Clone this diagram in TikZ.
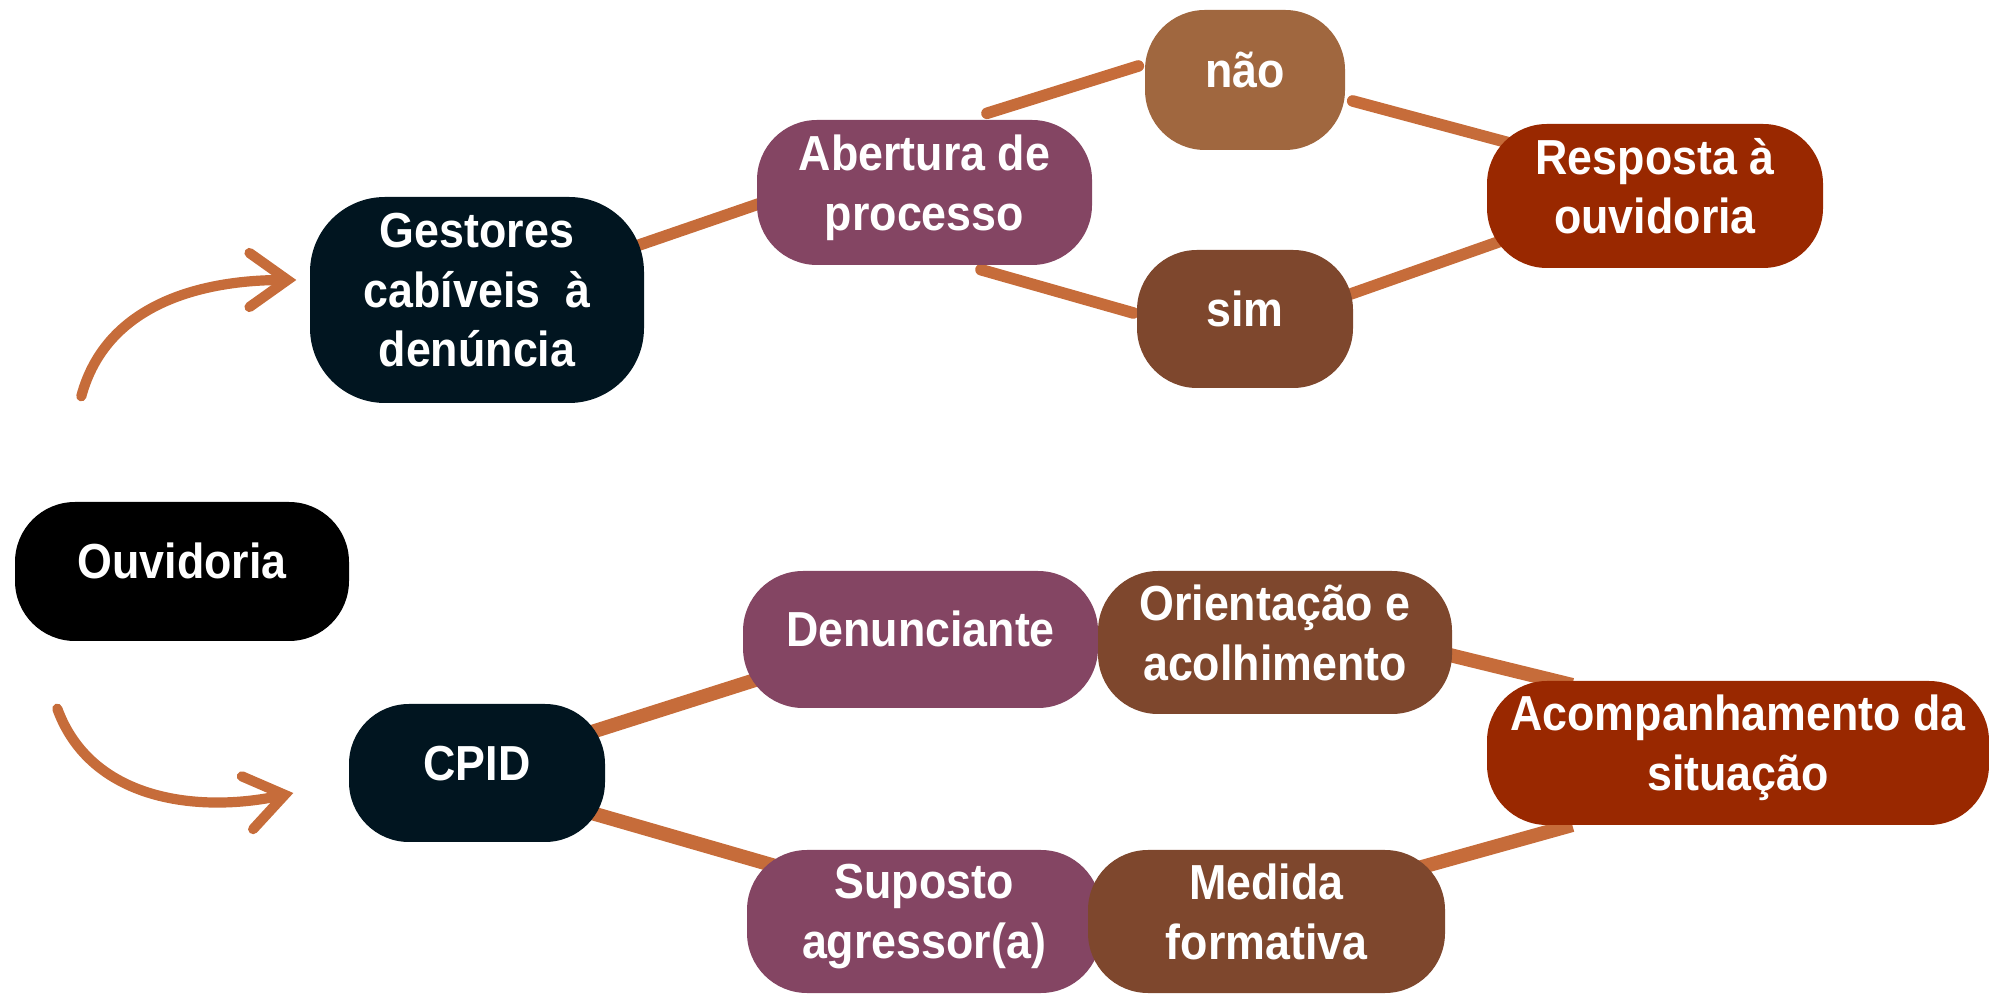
\documentclass[tikz,border=0pt]{standalone}
\usepackage{fontspec}
\setmainfont{Liberation Sans}[FakeStretch=0.91]
\definecolor{inknavy}{RGB}{1,21,32}
\definecolor{plum}{RGB}{132,69,99}
\definecolor{clay}{RGB}{160,103,63}
\definecolor{walnut}{RGB}{126,71,45}
\definecolor{rust}{RGB}{153,40,0}
\definecolor{copper}{RGB}{198,108,58}
\usepackage{tikz}
\usetikzlibrary{arrows.meta,positioning,calc,backgrounds}
\newcommand\textdrop{3mm}

\begin{document}
\begin{tikzpicture}[
    box/.style={rounded corners=6mm, text=white, align=center, inner sep=0pt,
        font=\bfseries\fontsize{14}{17}\selectfont, minimum height=1.42cm,
        execute at begin node={\rule{0pt}{4.5mm}},
        execute at end node={\rule[-\textdrop]{0pt}{0pt}}},
    multi/.code={\def\textdrop{2mm}},
    link/.style={copper, line width=3.3pt, line cap=round},
    thicklink/.style={copper, line width=4pt},
    swoosh/.style={copper, line width=2.9pt, line cap=round,
        -{Straight Barb[length=3.8mm,width=5.4mm,line cap=round]}}
]
                \useasboundingbox (0,0) rectangle (19.89,9.93);

                % left column
                \node[box, fill=black, minimum width=3.34cm, minimum height=1.39cm] (ouvidoria) at (1.82,4.215) {Ouvidoria};
                \node[box, multi, fill=inknavy, minimum width=3.34cm, minimum height=2.06cm, rounded corners=7.5mm] (gestores) at (4.77,6.93) {Gestores\\cabíveis\ \ à\\denúncia};
                \node[box, fill=inknavy, minimum width=2.56cm, minimum height=1.38cm] (cpid) at (4.77,2.2) {CPID};

                % upper branch
                \node[box, multi, fill=plum, minimum width=3.35cm, minimum height=1.45cm] (abertura) at (9.245,8.005) {Abertura de\\processo};
                \node[box, fill=clay, minimum width=2.0cm, minimum height=1.4cm] (nao) at (12.45,9.13) {não};
                \node[box, fill=walnut, minimum width=2.16cm, minimum height=1.38cm] (sim) at (12.45,6.74) {sim};
                \node[box, multi, fill=rust, minimum width=3.36cm, minimum height=1.44cm] (resposta) at (16.55,7.97) {Resposta à\\ouvidoria};

                % lower branch
                \node[box, fill=plum, minimum width=3.55cm, minimum height=1.37cm] (denunciante) at (9.205,3.535) {Denunciante};
                \node[box, multi, fill=walnut, minimum width=3.54cm, minimum height=1.43cm] (orientacao) at (12.75,3.505) {Orientação e\\acolhimento};
                \node[box, multi, fill=plum, minimum width=3.54cm, minimum height=1.43cm] (suposto) at (9.24,0.715) {Suposto\\agressor(a)};
                \node[box, multi, fill=walnut, minimum width=3.57cm, minimum height=1.43cm] (medida) at (12.665,0.715) {Medida\\formativa};
                \node[box, multi, fill=rust, minimum width=5.02cm, minimum height=1.44cm] (acomp) at (17.38,2.4) {Acompanhamento da\\situação};

                \begin{scope}[on background layer]
                \draw[link] ([xshift=-2.3mm,yshift=4.9mm]gestores.east) -- ([xshift=2.4mm,yshift=-0.4mm]abertura.west);
                \draw[link] ([xshift=6.25mm,yshift=0.6mm]abertura.north) -- ([xshift=-0.6mm,yshift=1.4mm]nao.west);
                \draw[link] ([xshift=5.65mm,yshift=-0.4mm]abertura.south) -- ([xshift=-0.3mm,yshift=0.6mm]sim.west);
                \draw[link] ([xshift=0.7mm,yshift=-2.1mm]nao.east) -- ([xshift=3.8mm,yshift=4.9mm]resposta.west);
                \draw[link] ([xshift=-0.3mm,yshift=2.5mm]sim.east) -- ([xshift=1.2mm,yshift=-4.6mm]resposta.west);
                \draw[thicklink] ([xshift=-1.4mm,yshift=4.1mm]cpid.east) -- ([xshift=1.6mm,yshift=-3.95mm]denunciante.west);
                \draw[thicklink] ([xshift=-1.4mm,yshift=-4mm]cpid.east) -- ([xshift=2.9mm,yshift=5.55mm]suposto.west);
                \draw[thicklink] ([xshift=-0.3mm,yshift=-1.25mm]orientacao.east) -- ([xshift=8.6mm,yshift=6.8mm]acomp.west);
                \draw[thicklink] ([xshift=-3.1mm,yshift=5.25mm]medida.east) -- ([xshift=8.6mm,yshift=-7.2mm]acomp.west);
                \end{scope}

                % curved arrows from the ouvidoria
                \draw[swoosh] ([xshift=6.7mm,yshift=10.5mm]ouvidoria.north west) to[out=75,in=180] ([xshift=-1.3mm,yshift=2mm]gestores.west);
                \draw[swoosh] ([xshift=4.3mm,yshift=-6.7mm]ouvidoria.south west) to[out=-70,in=192] ([xshift=-5.5mm,yshift=-2mm]cpid.west);
\end{tikzpicture}
\end{document}
